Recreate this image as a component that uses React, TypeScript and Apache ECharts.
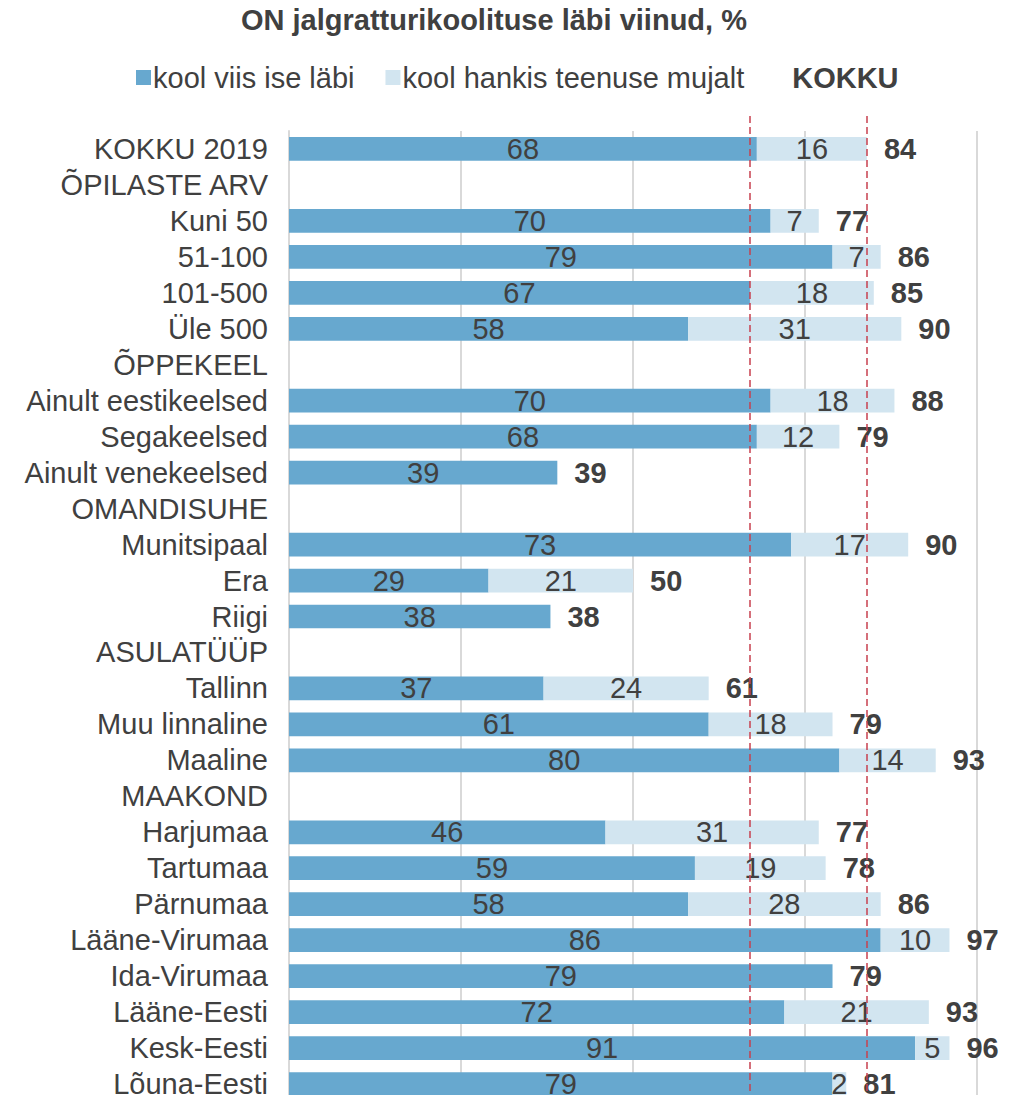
import React, { useEffect, useRef } from "react";
import * as echarts from "echarts";

const categories = [
  "KOKKU 2019", "ÕPILASTE ARV", "Kuni 50", "51-100", "101-500", "Üle 500",
  "ÕPPEKEEL", "Ainult eestikeelsed", "Segakeelsed", "Ainult venekeelsed",
  "OMANDISUHE", "Munitsipaal", "Era", "Riigi",
  "ASULATÜÜP", "Tallinn", "Muu linnaline", "Maaline",
  "MAAKOND", "Harjumaa", "Tartumaa", "Pärnumaa", "Lääne-Virumaa", "Ida-Virumaa",
  "Lääne-Eesti", "Kesk-Eesti", "Lõuna-Eesti",
];
const selfRun = [68, null, 70, 79, 67, 58, null, 70, 68, 39, null, 73, 29, 38, null, 37, 61, 80, null, 46, 59, 58, 86, 79, 72, 91, 79];
const outsourced = [16, null, 7, 7, 18, 31, null, 18, 12, null, null, 17, 21, null, null, 24, 18, 14, null, 31, 19, 28, 10, null, 21, 5, 2];
const totals = [84, null, 77, 86, 85, 90, null, 88, 79, 39, null, 90, 50, 38, null, 61, 79, 93, null, 77, 78, 86, 97, 79, 93, 96, 81];
const refLines = [67, 84];

const seriesNames = ["kool viis ise läbi", "kool hankis teenuse mujalt", "KOKKU"];
const FONT = "'Liberation Sans', Arial, sans-serif";
const TXT = "#404040";
const DARK = "#67A8CF";
const LIGHT = "#D2E5F0";

export default function App() {
  const ref = useRef<HTMLDivElement>(null);
  useEffect(() => {
    if (!ref.current) return;
    const chart = echarts.init(ref.current, null, { renderer: "svg" });
    const FS = 29;
    chart.setOption({
      animation: false,
      backgroundColor: "#ffffff",
      textStyle: { fontFamily: FONT, color: TXT },
      title: {
        text: "ON jalgratturikoolituse läbi viinud, %",
        left: 236,
        top: 0,
        textStyle: { fontFamily: FONT, fontSize: FS, fontWeight: "bold", color: TXT },
      },
      legend: {
        top: 58,
        left: 131,
        itemWidth: 15,
        itemHeight: 15,
        itemGap: 31,
        icon: "rect",
        textStyle: { fontFamily: FONT, fontSize: FS, color: TXT, padding: [0, 0, 0, -3] },
        data: [
          { name: seriesNames[0] },
          { name: seriesNames[1] },
          { name: seriesNames[2], textStyle: { fontWeight: "bold" } },
        ],
      },
      grid: [
        { left: 289, right: 43, top: 131, bottom: 0, containLabel: false },
        { left: 289, right: 43, top: 114, bottom: 0, containLabel: false },
      ],
      xAxis: [
        {
          gridIndex: 0,
          type: "value",
          min: 0,
          max: 100,
          interval: 25,
          axisLabel: { show: false },
          axisLine: { show: false },
          axisTick: { show: false },
          splitLine: { show: true, lineStyle: { color: "#D9D9D9", width: 2 } },
        },
        { gridIndex: 1, type: "value", min: 0, max: 100, show: false },
      ],
      yAxis: [
        {
          gridIndex: 0,
          type: "category",
          inverse: true,
          data: categories,
          axisTick: { show: false },
          axisLine: { show: true, lineStyle: { color: "#D9D9D9", width: 2 } },
          axisLabel: { interval: 0, fontFamily: FONT, fontSize: FS, color: TXT, margin: 21 },
        },
        { gridIndex: 1, type: "value", min: 0, max: 1, show: false },
      ],
      series: [
        {
          name: seriesNames[0],
          type: "bar",
          stack: "a",
          barWidth: "66%",
          data: selfRun,
          itemStyle: { color: DARK },
          label: { show: true, position: "inside", color: TXT, fontFamily: FONT, fontSize: FS },
        },
        {
          name: seriesNames[1],
          type: "bar",
          stack: "a",
          data: outsourced,
          itemStyle: { color: LIGHT },
          label: { show: true, position: "inside", color: TXT, fontFamily: FONT, fontSize: FS },
        },
        {
          name: seriesNames[2],
          type: "bar",
          stack: "a",
          data: totals.map((t) => (t == null ? null : 0)),
          itemStyle: { color: "rgba(0,0,0,0)" },
          label: {
            show: true,
            position: "right",
            distance: 17,
            color: TXT,
            fontFamily: FONT,
            fontSize: FS,
            fontWeight: "bold",
            formatter: (p: any) => (totals[p.dataIndex] == null ? "" : String(totals[p.dataIndex])),
          },
        },
        {
          name: "ref",
          type: "line",
          xAxisIndex: 1,
          yAxisIndex: 1,
          data: [],
          silent: true,
          markLine: {
            symbol: "none",
            silent: true,
            label: { show: false },
            lineStyle: { color: "#C8404F", type: [7, 4], width: 1.5 },
            data: refLines.map((v) => ({ xAxis: v })),
          },
        },
      ],
    });
    return () => chart.dispose();
  }, []);
  return (
    <div
      style={{
        position: "absolute",
        left: 0,
        top: 0,
        width: 1020,
        height: 1095,
        overflow: "hidden",
        background: "#fff",
      }}
    >
      <div ref={ref} style={{ width: 1020, height: 1102 }} />
    </div>
  );
}
